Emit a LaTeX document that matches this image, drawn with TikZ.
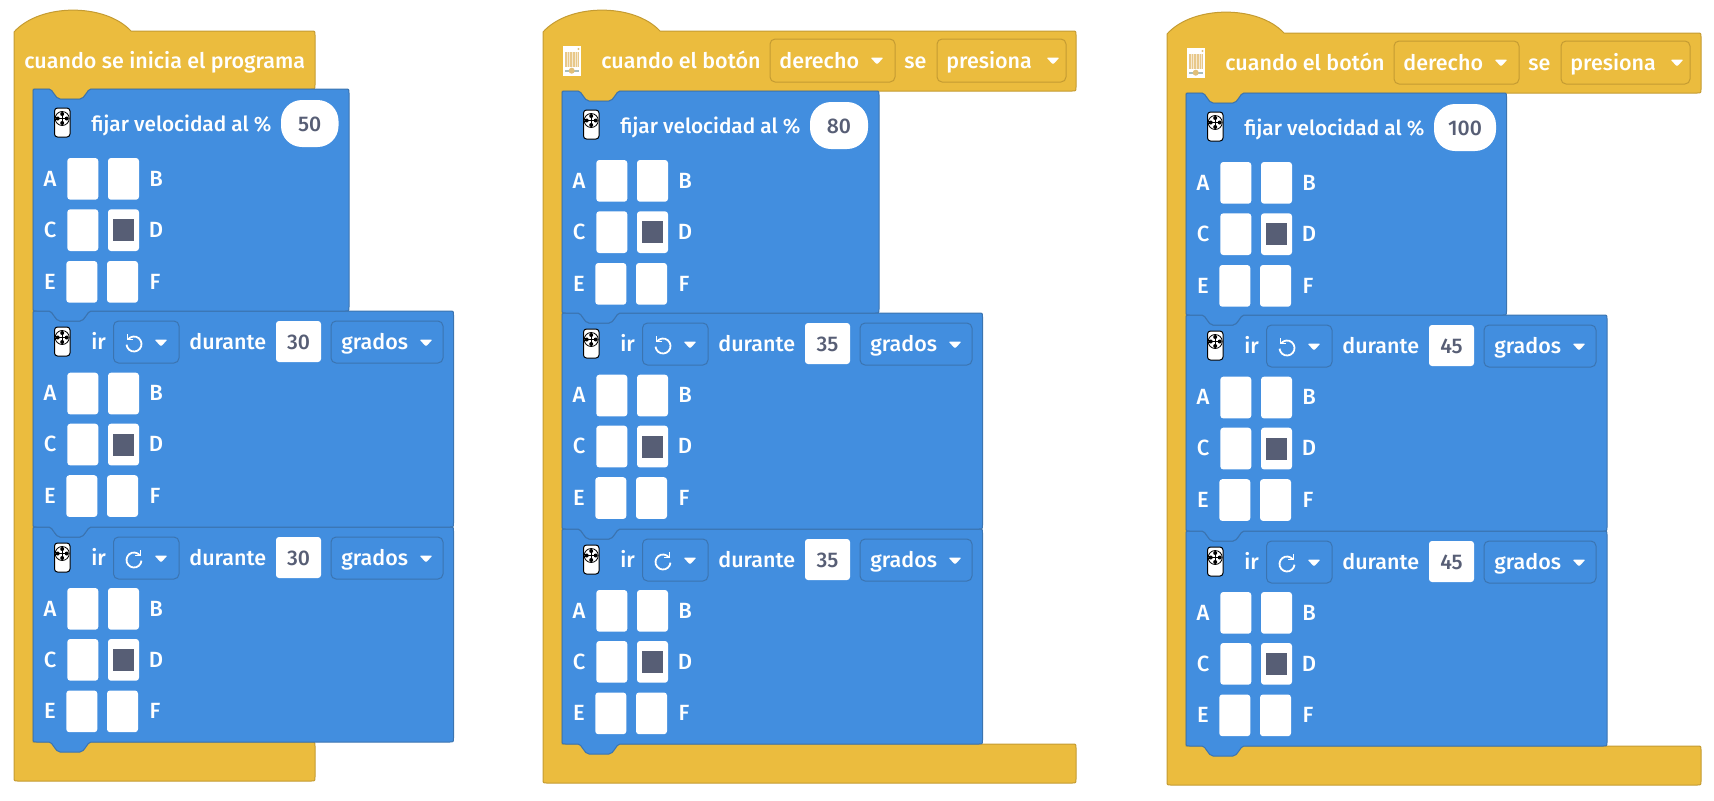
\documentclass[tikz,border=0pt]{standalone}
\usepackage{fontspec}
\setmainfont{Fira Sans Medium}
\definecolor{capfill}{HTML}{EBBC3E}
\definecolor{capedge}{HTML}{C49B32}
\definecolor{blockfill}{HTML}{428EDF}
\definecolor{blockedge}{HTML}{3B74B0}
\definecolor{inkgray}{HTML}{575E75}
\definecolor{ledtan}{HTML}{E8C88A}
\definecolor{stripgray}{HTML}{A9BDB8}
\tikzset{
  capface/.style={fill=capfill, draw=capedge, line width=0.5pt},
  blockface/.style={fill=blockfill, draw=blockedge, line width=0.5pt},
  wordtext/.style={white, anchor=base west, inner sep=0pt, font=\fontsize{10.75}{12}\selectfont},
  speedtext/.style={wordtext, font=\fontsize{10.4}{12}\selectfont},
  pintext/.style={white, anchor=center, inner sep=0pt, font=\fontsize{11}{12}\selectfont},
  numtext/.style={inkgray, anchor=base, inner sep=0pt, font=\fontsize{10.6}{12}\selectfont},
  dropcap/.style={draw=capedge, line width=0.5pt, rounded corners=2.5pt},
  dropblue/.style={draw=blockedge, line width=0.5pt, rounded corners=2.5pt},
  cellbox/.style={fill=white, rounded corners=1.5pt},
}
% hat, header bar, inner edge and foot: #1 right edge, #2 top of the bar
\newcommand{\capshape}[2]{
  \draw[capface] (14,#2+1) .. controls (40,#2-28) and (105,#2-28) .. (131,#2) -- (#1-4,#2)
    .. controls (#1,#2) .. (#1,#2+4) -- (#1,85) .. controls (#1,89) .. (#1-4,89)
    -- (91,89) .. controls (87,89) and (85,99) .. (80,99) -- (60,99)
    .. controls (55,99) and (53,89) .. (49,89) -- (33,89) -- (33,742)
    -- (#1-4,742) .. controls (#1,742) .. (#1,746) -- (#1,777)
    .. controls (#1,781) .. (#1-4,781) -- (18,781) .. controls (14,781) .. (14,777) -- cycle;
}
% blue body with notch and tab: #1 top, #2 bottom, #3 right edge
\newcommand{\blockbody}[3]{
  \draw[blockface] (37,#1) -- (49,#1) .. controls (53,#1) and (55,#1+10) .. (60,#1+10)
    -- (80,#1+10) .. controls (85,#1+10) and (87,#1) .. (91,#1) -- (#3-4,#1)
    .. controls (#3,#1) .. (#3,#1+4) -- (#3,#2-4) .. controls (#3,#2) .. (#3-4,#2)
    -- (91,#2) .. controls (87,#2) and (85,#2+10) .. (80,#2+10) -- (60,#2+10)
    .. controls (55,#2+10) and (53,#2) .. (49,#2) -- (37,#2)
    .. controls (33,#2) .. (33,#2-4) -- (33,#1+4) .. controls (33,#1) .. (37,#1) -- cycle;
}
% remote control: #1 top of the icon
\newcommand{\remoteicon}[1]{
  \draw[fill=white, draw=black, line width=0.5pt, rounded corners=1.5pt] (54.5,#1) rectangle (70,#1+29);
  \draw[black, line width=0.4pt] (62.2,#1+10.5) circle (7);
  \foreach \dx/\dy in {0/-4.5, 0/4.5, -4.5/0, 4.5/0}
    \fill[black] (62.2+\dx,#1+10.5+\dy) circle (2);
  \draw[black, line width=0.3pt] (58,#1+10.5) -- (66.4,#1+10.5) (62.2,#1+6.3) -- (62.2,#1+14.7);
}
% six pins: #1 prefix, #2 to #4 top of each row
\newcommand{\pingrid}[4]{
  \foreach \rowtop/\first/\second/\lx in {#2/A/B/0, #3/C/D/0, #4/E/F/-1} {
    \fill[cellbox] (67.3+\lx,\rowtop) rectangle (98.3+\lx,\rowtop+41.7);
    \fill[cellbox] (108+\lx,\rowtop) rectangle (139+\lx,\rowtop+41.7);
    \node[pintext] (#1\first) at (50,\rowtop+20.5) {\first};
    \node[pintext] (#1\second) at (156+\lx,\rowtop+20.5) {\second};
  }
  \fill[inkgray] (113,#3+10) rectangle (134,#3+32);
}
% #1 prefix, #2 right edge, #3 pill right, #4 value
\newcommand{\speedblock}[4]{
  \blockbody{89}{311}{#2}
  \remoteicon{108}
  \node[speedtext] (#1fijar) at (91,131) {fijar velocidad al \%};
  \fill[white, rounded corners=10.5pt] (281,100) rectangle (#3,147);
  \node[numtext] (#1speed) at ({(281+#3)/2},131) {#4};
  \pingrid{#1}{158}{209.3}{261}
}
\newcommand{\droptip}[2]{
  \fill[white, rounded corners=0.6pt] (#1-6.5,#2-3.5) -- (#1+6.5,#2-3.5) -- (#1,#2+3.5) -- cycle;
}
% #1 prefix, #2 top, #3 bottom, #4 right, #5 turn sign, #6 value, #7 top of first pin row
\newcommand{\turnblock}[7]{
  \blockbody{#2}{#3}{#4}
  \remoteicon{#2+16}
  \node[wordtext] (#1ir) at (91,#2+38) {ir};
  \draw[dropblue] (113.5,#2+10) rectangle (179,#2+52);
  \begin{scope}[shift={(134,#2+33)}, xscale=#5]
    \draw[white, line width=0.9pt] (5:7.5) arc[start angle=5, end angle=320, radius=7.5];
    \draw[white, line width=0.9pt] (6.5,-10) -- (6.5,-4.5) -- (1,-4.5);
  \end{scope}
  \droptip{161}{#2+32}
  \node[wordtext] (#1durante) at (189,#2+38) {durante};
  \fill[white, rounded corners=1.5pt] (276,#2+10) rectangle (321,#2+51);
  \node[numtext] (#1angle) at (298.5,#2+38) {#6};
  \draw[dropblue] (331,#2+10) rectangle (443,#2+52);
  \node[wordtext] (#1grados) at (341,#2+38) {grados};
  \droptip{426}{#2+32}
  \pingrid{#1}{#7}{#7+51}{#7+102.5}
}
% board icon and button header: #1 prefix
\newcommand{\buttonhead}[1]{
  \fill[white] (33.5,44) rectangle (52,73.5);
  \fill[ledtan] (36,50) rectangle (49.6,64.7);
  \draw[white!60!ledtan, line width=0.25pt, step=2.7] (36,50) grid (49.6,64.7);
  \fill[stripgray] (36,67.7) rectangle (49.6,70);
  \fill[ledtan!80!capedge] (42.7,68.7) circle (3);
  \fill[ledtan!80!capedge] (49.5,47) circle (1.2);
  \node[wordtext] (#1when) at (72,66) {cuando el botón};
  \draw[dropcap] (241,37) rectangle (366,80);
  \node[wordtext] (#1side) at (250,66) {derecho};
  \droptip{348}{59}
  \node[wordtext] (#1se) at (375,66) {se};
  \draw[dropcap] (408,37) rectangle (537,80);
  \node[wordtext] (#1press) at (417,66) {presiona};
  \droptip{524}{59}
}
\begin{document}
\begin{tikzpicture}[x=0.5pt, y=-0.5pt]
  \useasboundingbox (0,0) rectangle (1714,800);

  % program start
  \capshape{315}{31}
  \node[wordtext] (startword) at (24,68) {cuando se inicia el programa};
  \turnblock{lc}{527}{742}{453.5}{1}{30}{588}
  \turnblock{lb}{311}{527}{453.5}{-1}{30}{372.7}
  \speedblock{la}{349}{338.5}{50}

  % right button, 80
  \begin{scope}[shift={(529,2)}]
    \capshape{547}{29}
    \buttonhead{m}
    \turnblock{mc}{527}{742}{453.5}{1}{35}{588}
    \turnblock{mb}{311}{527}{453.5}{-1}{35}{372.7}
    \speedblock{ma}{350}{339}{80}
  \end{scope}

  % right button, 100
  \begin{scope}[shift={(1153,4)}]
    \capshape{548}{29}
    \buttonhead{r}
    \turnblock{rc}{527}{742}{454}{1}{45}{588}
    \turnblock{rb}{311}{527}{454}{-1}{45}{372.7}
    \speedblock{ra}{353.5}{343}{100}
  \end{scope}
\end{tikzpicture}
\end{document}
